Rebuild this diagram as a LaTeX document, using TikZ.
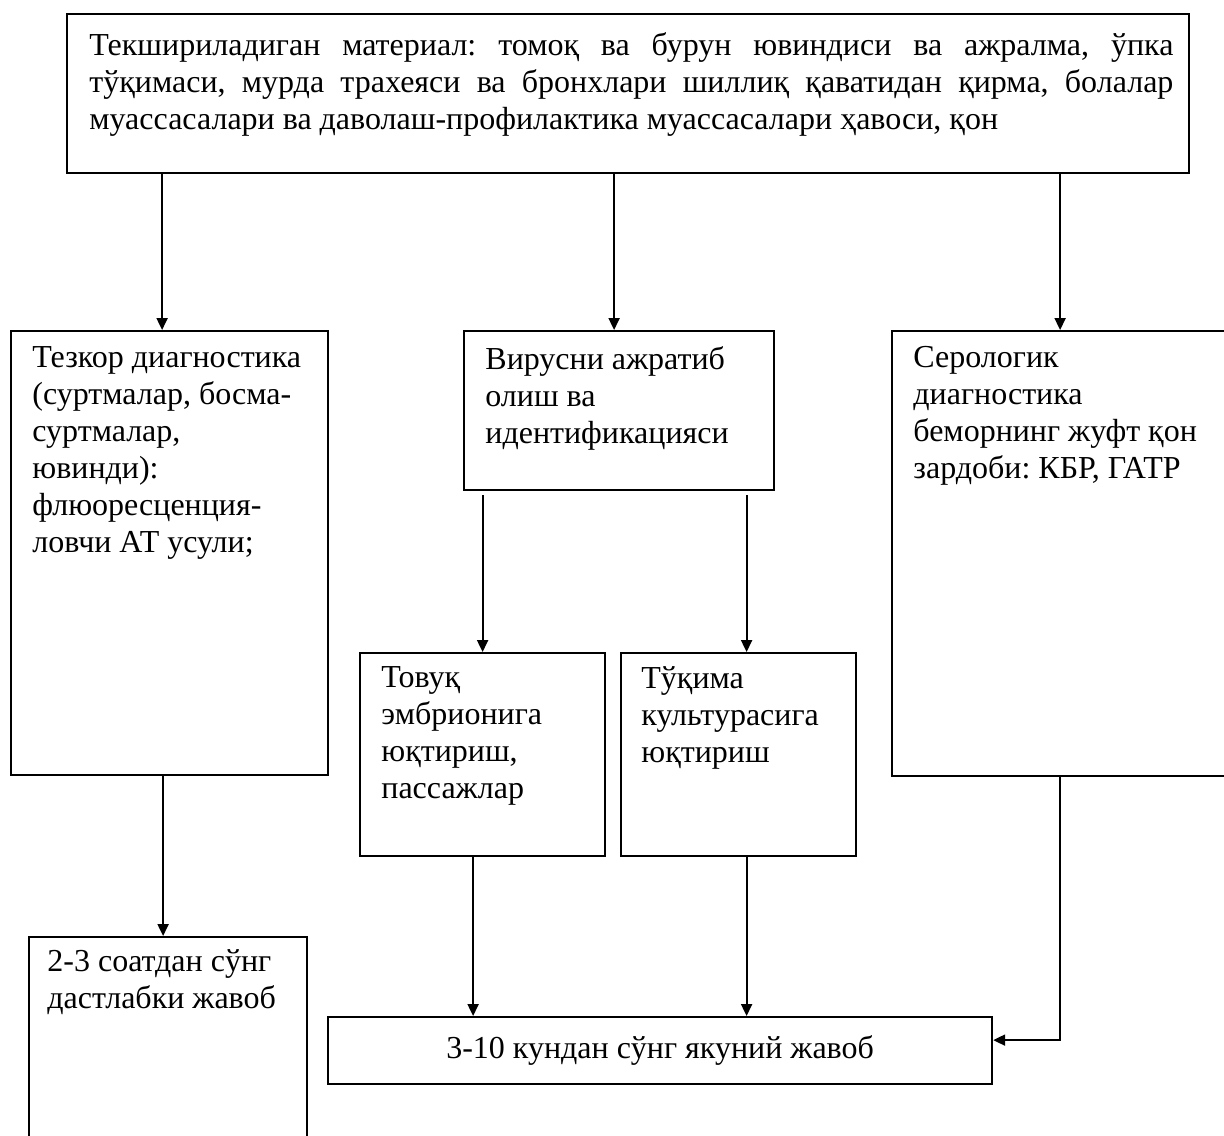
\documentclass[tikz,border=0pt]{standalone}
\usepackage{fontspec}
\setmainfont{Liberation Serif}
\usetikzlibrary{arrows.meta}

\newcommand{\bodyfont}{\fontsize{16}{18.5}\selectfont}
\frenchspacing

\tikzset{
  box/.style={draw, line width=1.1pt, rectangle, anchor=north west, inner sep=0pt, font=\bodyfont},
  txt/.style={anchor=north west, inner sep=0pt, align=left, font=\bodyfont, execute at begin node=\strut},
  arr/.style={line width=1.1pt, -{Triangle[length=6pt,width=5.5pt]}}
}

\begin{document}
\begin{tikzpicture}[x=0.5pt,y=-0.5pt]
	\useasboundingbox (0,0) rectangle (1224,1135);
	\clip (0,0) rectangle (1224,1135);

	%boxes
	\node[box, minimum width=561pt, minimum height=79.5pt] (material) at (66,13) {};
	\node[box, minimum width=158.5pt, minimum height=222pt] (rapid) at (10,330) {};
	\node[box, minimum width=155pt, minimum height=79.5pt] (isolate) at (463,330) {};
	\node[box, minimum width=168pt, minimum height=222.5pt] (serol) at (891,330) {};
	\node[box, minimum width=122.5pt, minimum height=101.5pt] (embryo) at (359,652) {};
	\node[box, minimum width=117.5pt, minimum height=101.5pt] (culture) at (620,652) {};
	\node[box, minimum width=139pt, minimum height=120pt] (prelim) at (28,936) {};
	\node[box, minimum width=332pt, minimum height=33.5pt] (final) at (327,1016) {3-10 кундан сўнг якуний жавоб};

	%texts
	\node[txt, text width=542pt, align=justify] (material-t) at (89,29) {Текшириладиган материал: томоқ ва бурун ювиндиси ва ажралма, ўпка\linebreak
		тўқимаси, мурда трахеяси ва бронхлари шиллиқ қаватидан қирма, болалар\linebreak
		муассасалари ва даволаш-профилактика муассасалари ҳавоси, қон};
	\node[txt] (rapid-t) at (32,346) {Тезкор диагностика\\(суртмалар, босма-\\суртмалар,\\ювинди):\\флюоресценция-\\ловчи АТ усули;};
	\node[txt] (isolate-t) at (485,346) {Вирусни ажратиб\\олиш ва\\идентификацияси};
	\node[txt] (serol-t) at (913,346) {Серологик\\диагностика\\беморнинг жуфт қон\\зардоби: КБР, ГАТР};
	\node[txt] (embryo-t) at (381,666) {Товуқ\\эмбрионига\\юқтириш,\\пассажлар};
	\node[txt] (culture-t) at (641,666) {Тўқима\\культурасига\\юқтириш};
	\node[txt] (prelim-t) at (47,949) {2-3 соатдан сўнг\\дастлабки жавоб};

	%connectors
	\coordinate (a1) at ([xshift=-3.75pt]rapid.north);
	\coordinate (a2) at ([xshift=-2.5pt]isolate.north);
	\draw[arr] (a1 |- material.south) -- (a1);
	\draw[arr] (a2 |- material.south) -- (a2);
	\draw[arr] (serol.north |- material.south) -- (serol.north);
	\draw[arr, shorten <=2pt] (isolate.south -| embryo.north) -- (embryo.north);
	\coordinate (a3) at ([xshift=4pt]culture.north);
	\draw[arr, shorten <=2pt] (isolate.south -| a3) -- (a3);
	\coordinate (a4) at ([xshift=-2.5pt]prelim.north);
	\draw[arr] (a4 |- rapid.south) -- (a4);
	\coordinate (a5) at ([xshift=-4.75pt]embryo.south);
	\draw[arr] (a5) -- (a5 |- final.north);
	\coordinate (a6) at ([xshift=4pt]culture.south);
	\draw[arr] (a6) -- (a6 |- final.north);
	\draw[arr] (serol.south) |- ([yshift=5.25pt]final.east);

	\end{tikzpicture}
\end{document}
